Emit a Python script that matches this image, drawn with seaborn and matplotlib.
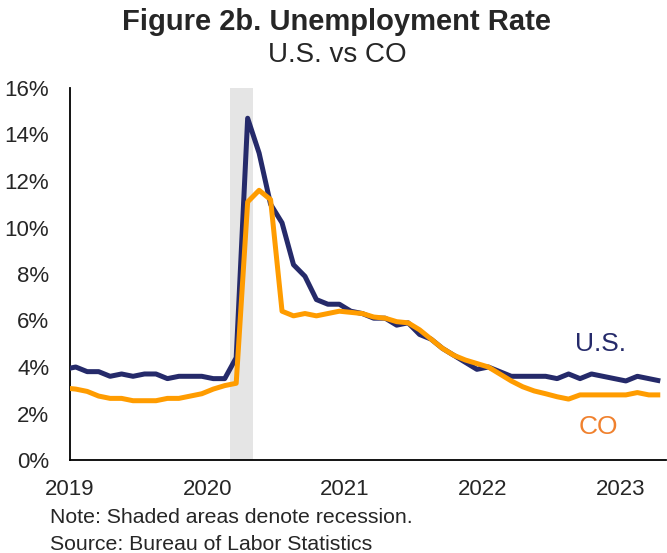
import matplotlib
matplotlib.use("Agg")
import matplotlib.pyplot as plt
import seaborn as sns
import pandas as pd
import numpy as np

# Monthly data, Dec 2018 .. Apr 2023 (Dec 2018 is clipped at the left edge)
months = pd.period_range("2018-12", "2023-04", freq="M").strftime("%Y-%m").tolist()
us_rate = [3.9,
           4.0, 3.8, 3.8, 3.6, 3.7, 3.6, 3.7, 3.7, 3.5, 3.6, 3.6, 3.6,
           3.5, 3.5, 4.4, 14.7, 13.2, 11.0, 10.2, 8.4, 7.9, 6.9, 6.7, 6.7,
           6.4, 6.3, 6.1, 6.1, 5.8, 5.9, 5.4, 5.2, 4.8, 4.5, 4.2, 3.9,
           4.0, 3.8, 3.6, 3.6, 3.6, 3.6, 3.5, 3.7, 3.5, 3.7, 3.6, 3.5,
           3.4, 3.6, 3.5, 3.4]
co_rate = [3.1,
           3.05, 2.95, 2.75, 2.65, 2.65, 2.55, 2.55, 2.55, 2.65, 2.65, 2.75, 2.85,
           3.05, 3.2, 3.3, 11.1, 11.6, 11.2, 6.4, 6.2, 6.3, 6.2, 6.3, 6.4,
           6.35, 6.3, 6.15, 6.1, 5.95, 5.9, 5.6, 5.2, 4.8, 4.5, 4.3, 4.15,
           4.0, 3.7, 3.4, 3.15, 2.97, 2.85, 2.72, 2.62, 2.8, 2.8, 2.8, 2.8,
           2.8, 2.9, 2.8, 2.8]
year_labels = ["2019", "2020", "2021", "2022", "2023"]
y_ticks = [0, 2, 4, 6, 8, 10, 12, 14, 16]
recession = ("2020-03", "2020-04")  # shaded months

NAVY = "#252A6A"
ORANGE = "#FF9C00"
LABEL_ORANGE = "#F0812E"

# month offset from Jan 2019, plotted at mid-month
def pos(m):
    y, mo = map(int, m.split("-"))
    return (y - 2019) * 12 + (mo - 1) + 0.5

df = pd.DataFrame({
    "x": [pos(m) for m in months] * 2,
    "rate": us_rate + co_rate,
    "series": ["U.S."] * len(months) + ["CO"] * len(months),
})

sns.set_style("white")
plt.rcParams["font.family"] = ["Liberation Sans", "DejaVu Sans"]

fig = plt.figure(figsize=(6.67, 5.53), dpi=100)
ax = fig.add_axes([70 / 667, 1 - 460 / 553, 596 / 667, (460 - 88) / 553])

ax.axvspan(pos(recession[0]) - 0.5, pos(recession[1]) + 0.5, color="#E5E5E5", lw=0, zorder=0)

sns.lineplot(data=df, x="x", y="rate", hue="series", hue_order=["U.S.", "CO"],
             palette={"U.S.": NAVY, "CO": ORANGE}, linewidth=3.6, legend=False,
             ax=ax, zorder=3, solid_capstyle="butt", solid_joinstyle="round")

ax.set_xlim(0, 52)
ax.set_ylim(0, 16)
ax.set_xticks([12 * i for i in range(len(year_labels))])
ax.set_xticklabels(year_labels, fontsize=16)
ax.set_yticks(y_ticks)
ax.set_yticklabels([f"{v}%" for v in y_ticks], fontsize=16)
ax.set_xlabel("")
ax.set_ylabel("")
for s in ["top", "right"]:
    ax.spines[s].set_visible(False)
for s in ["left", "bottom"]:
    ax.spines[s].set_color("black")
    ax.spines[s].set_linewidth(1.3)
ax.tick_params(axis="both", direction="out", length=5, width=1.2, color="black")
ax.tick_params(axis="y", pad=10)
ax.tick_params(axis="x", pad=9)

ax.text(46.3, 5.0, "U.S.", color=NAVY, fontsize=19, ha="center", va="center")
ax.text(46.1, 1.42, "CO", color=LABEL_ORANGE, fontsize=19, ha="center", va="center")

fig.text(0.505, 1 - 30 / 553, "Figure 2b. Unemployment Rate", ha="center", va="baseline",
         fontsize=21, fontweight="bold")
fig.text(0.505, 1 - 62 / 553, "U.S. vs CO", ha="center", va="baseline", fontsize=20)

fig.text(50 / 667, 1 - 523 / 553, "Note: Shaded areas denote recession.", ha="left", va="baseline", fontsize=15.3)
fig.text(50 / 667, 1 - 550 / 553, "Source: Bureau of Labor Statistics", ha="left", va="baseline", fontsize=15.3)

fig.savefig("out.png", dpi=100)
